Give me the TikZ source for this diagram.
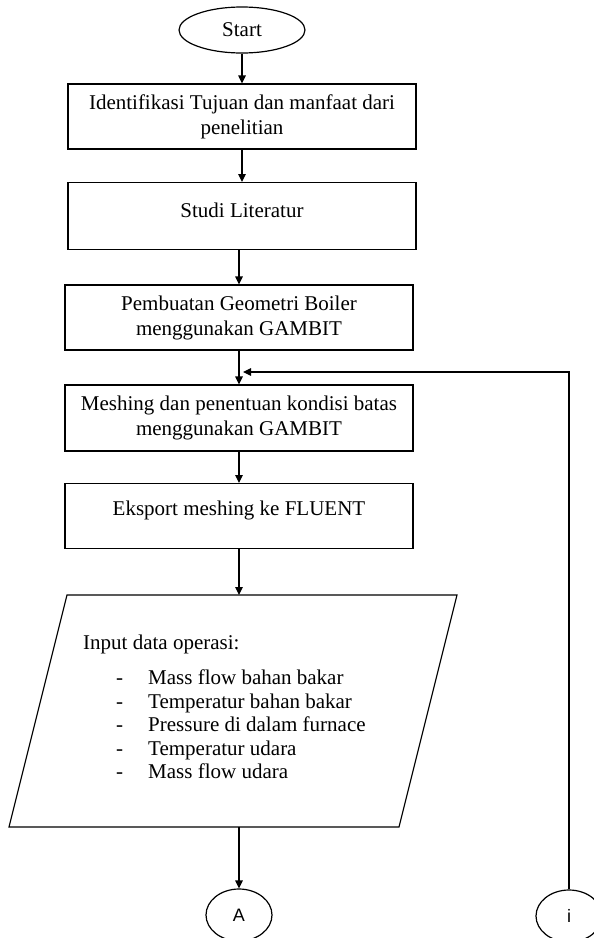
\documentclass[tikz,border=0pt]{standalone}
\usepackage{fontspec}
\setmainfont{Liberation Serif}
\newfontfamily\circfont{Liberation Sans}
\usetikzlibrary{arrows.meta,shapes.geometric,calc}
\begin{document}
\begin{tikzpicture}[x=1pt,y=-1pt,
  every node/.style={font=\fontsize{21}{25}\selectfont},
  procbox/.style={draw, line width=1.2pt, minimum width=348pt, inner xsep=0pt, inner ysep=0pt},
  termnode/.style={draw, ellipse, line width=1.2pt, inner sep=0pt},
  connnode/.style={draw, ellipse, line width=1.2pt, inner sep=0pt, minimum width=66pt, minimum height=52pt, font=\circfont\fontsize{18}{20}\selectfont},
  listline/.style={anchor=base west, inner sep=0pt, font=\fontsize{21}{23.5}\selectfont},
  arr/.style={line width=1.2pt, -{Triangle[length=8pt,width=7.5pt]}},
  ln/.style={line width=1.2pt},
]
\useasboundingbox (0,0) rectangle (594,938);
\clip (0,0) rectangle (594,938);

% terminal
\node[termnode, minimum width=126pt, minimum height=46pt] (start) at (242,30) {Start};

% process boxes
\node[procbox, minimum height=65pt, align=center] (b1) at (242,116.5)
  {Identifikasi Tujuan dan manfaat dari\\penelitian};
\node[procbox, anchor=north, text height=35pt, text depth=32pt] (b2) at (242,182)
  {Studi Literatur};
\node[procbox, minimum height=65pt, align=center] (b3) at (239,317.5)
  {Pembuatan Geometri Boiler\\menggunakan GAMBIT};
\node[procbox, minimum height=66pt, align=center] (b4) at (239,418)
  {Meshing dan penentuan kondisi batas\\menggunakan GAMBIT};
\node[procbox, anchor=north, text height=32pt, text depth=33pt] (b5) at (239,483)
  {Eksport meshing ke FLUENT};

% input parallelogram
\coordinate (p1) at (67,595);
\coordinate (p2) at (457,595);
\coordinate (p3) at (399,827);
\coordinate (p4) at (9,827);
\draw[ln] (p1) -- (p2) -- (p3) -- (p4) -- cycle;
\coordinate (ptop) at (239,595);
\coordinate (pbot) at (239,827);

\node[listline] (in0) at (83,649) {Input data operasi:};
\node[listline] (in1) at (116,684.5) {\makebox[32pt][l]{-}Mass flow bahan bakar};
\node[listline] (in2) at (116,708) {\makebox[32pt][l]{-}Temperatur bahan bakar};
\node[listline] (in3) at (116,731.5) {\makebox[32pt][l]{-}Pressure di dalam furnace};
\node[listline] (in4) at (116,755) {\makebox[32pt][l]{-}Temperatur udara};
\node[listline] (in5) at (116,778.5) {\makebox[32pt][l]{-}Mass flow udara};

% connectors
\node[connnode] (A) at (239,915) {A};
\node[connnode] (I) at (569,916) {i};

% arrows
\draw[arr] (start.south) -- (b1.north);
\draw[arr] (b1.south) -- (b2.north);
\draw[arr] (b3.north |- b2.south) -- (b3.north);
\draw[arr] (b3.south) -- (b4.north);
\draw[arr] (b4.south) -- (b5.north);
\draw[arr] (b5.south) -- (ptop);
\draw[arr] (pbot) -- (A.north);
\coordinate (fb) at (243,372);
\draw[arr] (I.north) |- (fb);
\end{tikzpicture}
\end{document}
